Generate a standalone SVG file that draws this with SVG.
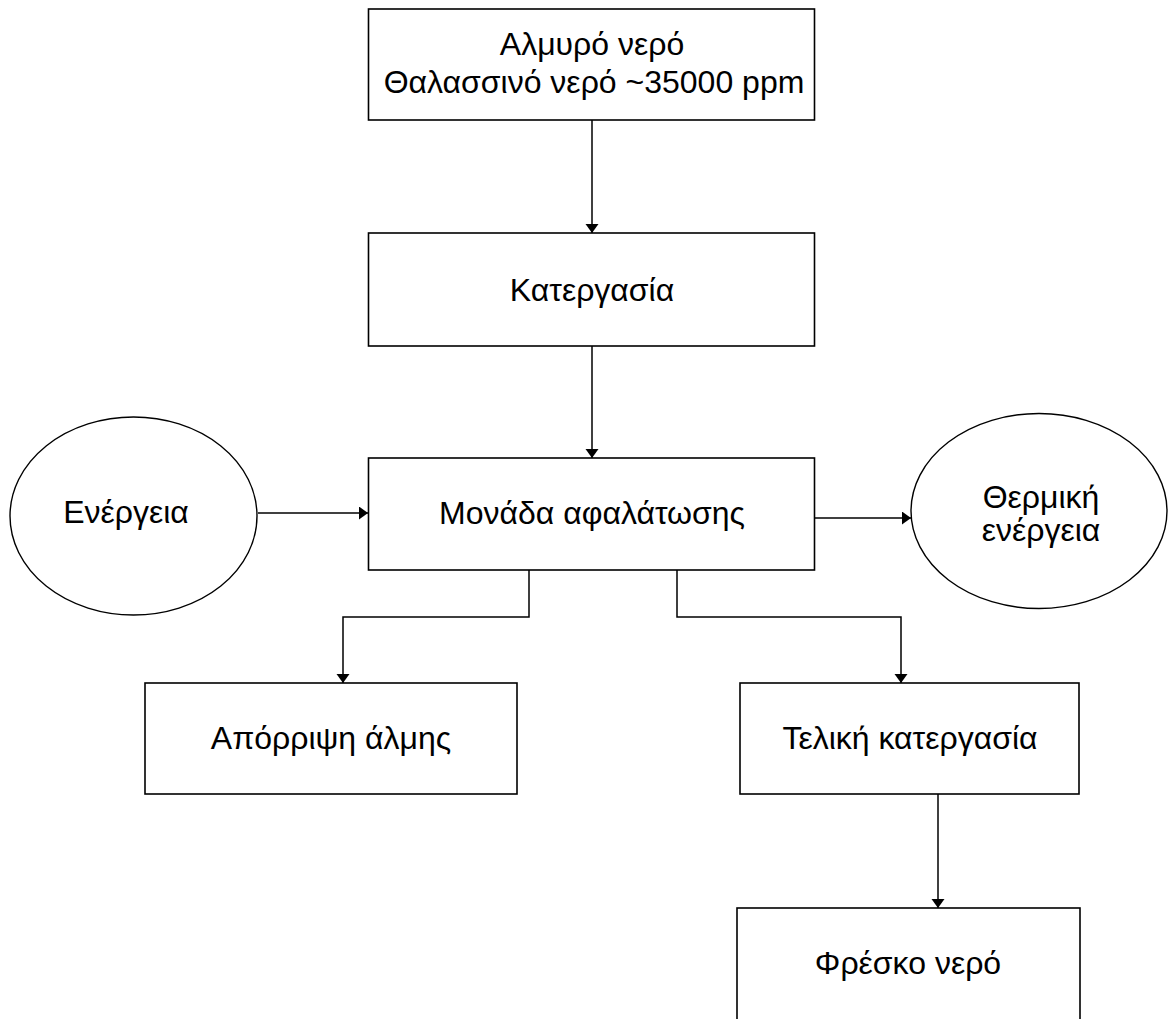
<svg xmlns="http://www.w3.org/2000/svg" width="1168" height="1019" viewBox="0 0 1168 1019">
<defs>
<marker id="ah" markerWidth="14" markerHeight="14" refX="9" refY="6.5" orient="auto" markerUnits="userSpaceOnUse">
<path d="M0,0 L9,6.5 L0,13 Z" fill="#000"/>
</marker>
<style>
.box{fill:#fff;stroke:#000;stroke-width:1.6}
.el{fill:#fff;stroke:#000;stroke-width:1.4}
.t{font-family:"Liberation Sans",Arial,sans-serif;font-size:32px;fill:#000;text-anchor:middle}
.c{fill:none;stroke:#000;stroke-width:1.5}
</style>
</defs>
<rect width="1168" height="1019" fill="#fff"/>
<g id="connectors">
<line class="c" x1="592" y1="120" x2="592" y2="233" marker-end="url(#ah)"/>
<line class="c" x1="592" y1="346" x2="592" y2="458" marker-end="url(#ah)"/>
<line class="c" x1="258" y1="513" x2="368" y2="513" marker-end="url(#ah)"/>
<line class="c" x1="815" y1="518" x2="911" y2="518" marker-end="url(#ah)"/>
<polyline class="c" points="529,570 529,617 343,617 343,683" marker-end="url(#ah)"/>
<polyline class="c" points="677,570 677,617 901,617 901,683" marker-end="url(#ah)"/>
<line class="c" x1="938" y1="794" x2="938" y2="908" marker-end="url(#ah)"/>
</g>
<g id="n-saltwater">
<rect class="box" x="368.5" y="9" width="446" height="111"/>
<text class="t" x="592" y="55">Αλμυρό νερό</text>
<text class="t" x="594" y="93">Θαλασσινό νερό ~35000 ppm</text>
</g>
<g id="n-processing">
<rect class="box" x="368.5" y="233" width="446" height="113"/>
<text class="t" x="592" y="301">Κατεργασία</text>
</g>
<g id="n-desal">
<rect class="box" x="368.5" y="458" width="446" height="112"/>
<text class="t" x="592" y="524">Μονάδα αφαλάτωσης</text>
</g>
<g id="n-energy">
<ellipse class="el" cx="133.5" cy="516" rx="123.5" ry="99"/>
<text class="t" x="126" y="523">Ενέργεια</text>
</g>
<g id="n-thermal">
<ellipse class="el" cx="1039" cy="511" rx="128" ry="97.5"/>
<text class="t" x="1041" y="508">Θερμική</text>
<text class="t" x="1041" y="541">ενέργεια</text>
</g>
<g id="n-brine">
<rect class="box" x="145" y="683" width="372" height="111"/>
<text class="t" x="331" y="749">Απόρριψη άλμης</text>
</g>
<g id="n-post">
<rect class="box" x="740" y="683" width="339" height="111"/>
<text class="t" x="910" y="749">Τελική κατεργασία</text>
</g>
<g id="n-fresh">
<rect class="box" x="737" y="908" width="343" height="130"/>
<text class="t" x="908" y="974">Φρέσκο νερό</text>
</g>
</svg>
